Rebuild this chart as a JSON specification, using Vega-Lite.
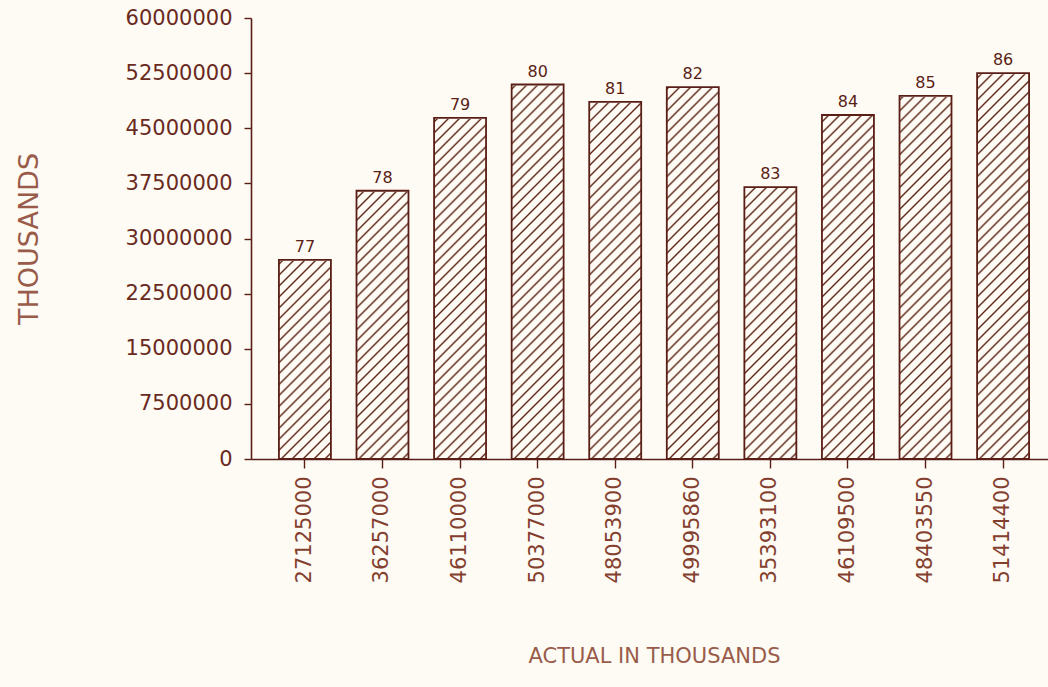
{
  "$schema": "https://vega.github.io/schema/vega-lite/v6.json",
  "description": "Bar chart of actual amounts in thousands, 1977-1986",
  "width": 797,
  "height": 441,
  "autosize": {"type": "none"},
  "padding": {"left": 251, "top": 18, "right": 0, "bottom": 228},
  "background": "#fdfbf4",
  "config": {
    "view": {"stroke": null},
    "font": "DejaVu Sans",
    "axis": {
      "domainColor": "#5a1e16",
      "tickColor": "#5a1e16",
      "domainWidth": 1.6,
      "tickWidth": 1.4,
      "grid": false,
      "labelFont": "DejaVu Sans",
      "titleFont": "DejaVu Sans",
      "titleFontWeight": "normal"
    }
  },
  "data": {
    "values": [
      {"actual": "27125000", "year": "77", "value": 27100000},
      {"actual": "36257000", "year": "78", "value": 36500000},
      {"actual": "46110000", "year": "79", "value": 46400000},
      {"actual": "50377000", "year": "80", "value": 50950000},
      {"actual": "48053900", "year": "81", "value": 48600000},
      {"actual": "49995860", "year": "82", "value": 50600000},
      {"actual": "35393100", "year": "83", "value": 37000000},
      {"actual": "46109500", "year": "84", "value": 46800000},
      {"actual": "48403550", "year": "85", "value": 49400000},
      {"actual": "51414400", "year": "86", "value": 52500000}
    ]
  },
  "encoding": {
    "x": {
      "field": "actual",
      "type": "nominal",
      "sort": null,
      "scale": {"range": [0, 806], "paddingInner": 0.33, "paddingOuter": 0.36},
      "axis": {
        "title": "ACTUAL IN THOUSANDS",
        "titleFontSize": 21,
        "titleColor": "#9a5c4a",
        "titlePadding": 63,
        "labelAngle": 270,
        "labelFontSize": 21,
        "labelColor": "#84402f",
        "labelPadding": 8,
        "tickSize": 9
      }
    }
  },
  "layer": [
    {
      "mark": {
        "type": "bar",
        "strokeWidth": 0,
        "fill": {
          "gradient": "linear",
          "x1": 0, "y1": 0, "x2": 0.13, "y2": 1.1026,
          "stops": [
            {"offset": 0, "color": "#fdfbf4"},
            {"offset": 0.007, "color": "#fdfbf4"}, {"offset": 0.011, "color": "#5e2418"}, {"offset": 0.015, "color": "#fdfbf4"},
            {"offset": 0.0292, "color": "#fdfbf4"}, {"offset": 0.0332, "color": "#5e2418"}, {"offset": 0.0372, "color": "#fdfbf4"},
            {"offset": 0.0514, "color": "#fdfbf4"}, {"offset": 0.0554, "color": "#5e2418"}, {"offset": 0.0594, "color": "#fdfbf4"},
            {"offset": 0.0736, "color": "#fdfbf4"}, {"offset": 0.0776, "color": "#5e2418"}, {"offset": 0.0816, "color": "#fdfbf4"},
            {"offset": 0.0958, "color": "#fdfbf4"}, {"offset": 0.0998, "color": "#5e2418"}, {"offset": 0.1038, "color": "#fdfbf4"},
            {"offset": 0.118, "color": "#fdfbf4"}, {"offset": 0.122, "color": "#5e2418"}, {"offset": 0.126, "color": "#fdfbf4"},
            {"offset": 0.1402, "color": "#fdfbf4"}, {"offset": 0.1442, "color": "#5e2418"}, {"offset": 0.1482, "color": "#fdfbf4"},
            {"offset": 0.1624, "color": "#fdfbf4"}, {"offset": 0.1664, "color": "#5e2418"}, {"offset": 0.1704, "color": "#fdfbf4"},
            {"offset": 0.1846, "color": "#fdfbf4"}, {"offset": 0.1886, "color": "#5e2418"}, {"offset": 0.1926, "color": "#fdfbf4"},
            {"offset": 0.2068, "color": "#fdfbf4"}, {"offset": 0.2108, "color": "#5e2418"}, {"offset": 0.2148, "color": "#fdfbf4"},
            {"offset": 0.229, "color": "#fdfbf4"}, {"offset": 0.233, "color": "#5e2418"}, {"offset": 0.237, "color": "#fdfbf4"},
            {"offset": 0.2512, "color": "#fdfbf4"}, {"offset": 0.2552, "color": "#5e2418"}, {"offset": 0.2592, "color": "#fdfbf4"},
            {"offset": 0.2734, "color": "#fdfbf4"}, {"offset": 0.2774, "color": "#5e2418"}, {"offset": 0.2814, "color": "#fdfbf4"},
            {"offset": 0.2956, "color": "#fdfbf4"}, {"offset": 0.2996, "color": "#5e2418"}, {"offset": 0.3036, "color": "#fdfbf4"},
            {"offset": 0.3178, "color": "#fdfbf4"}, {"offset": 0.3218, "color": "#5e2418"}, {"offset": 0.3258, "color": "#fdfbf4"},
            {"offset": 0.34, "color": "#fdfbf4"}, {"offset": 0.344, "color": "#5e2418"}, {"offset": 0.348, "color": "#fdfbf4"},
            {"offset": 0.3622, "color": "#fdfbf4"}, {"offset": 0.3662, "color": "#5e2418"}, {"offset": 0.3702, "color": "#fdfbf4"},
            {"offset": 0.3844, "color": "#fdfbf4"}, {"offset": 0.3884, "color": "#5e2418"}, {"offset": 0.3924, "color": "#fdfbf4"},
            {"offset": 0.4066, "color": "#fdfbf4"}, {"offset": 0.4106, "color": "#5e2418"}, {"offset": 0.4146, "color": "#fdfbf4"},
            {"offset": 0.4288, "color": "#fdfbf4"}, {"offset": 0.4328, "color": "#5e2418"}, {"offset": 0.4368, "color": "#fdfbf4"},
            {"offset": 0.451, "color": "#fdfbf4"}, {"offset": 0.455, "color": "#5e2418"}, {"offset": 0.459, "color": "#fdfbf4"},
            {"offset": 0.4732, "color": "#fdfbf4"}, {"offset": 0.4772, "color": "#5e2418"}, {"offset": 0.4812, "color": "#fdfbf4"},
            {"offset": 0.4954, "color": "#fdfbf4"}, {"offset": 0.4994, "color": "#5e2418"}, {"offset": 0.5034, "color": "#fdfbf4"},
            {"offset": 0.5176, "color": "#fdfbf4"}, {"offset": 0.5216, "color": "#5e2418"}, {"offset": 0.5256, "color": "#fdfbf4"},
            {"offset": 0.5398, "color": "#fdfbf4"}, {"offset": 0.5438, "color": "#5e2418"}, {"offset": 0.5478, "color": "#fdfbf4"},
            {"offset": 0.562, "color": "#fdfbf4"}, {"offset": 0.566, "color": "#5e2418"}, {"offset": 0.57, "color": "#fdfbf4"},
            {"offset": 0.5842, "color": "#fdfbf4"}, {"offset": 0.5882, "color": "#5e2418"}, {"offset": 0.5922, "color": "#fdfbf4"},
            {"offset": 0.6064, "color": "#fdfbf4"}, {"offset": 0.6104, "color": "#5e2418"}, {"offset": 0.6144, "color": "#fdfbf4"},
            {"offset": 0.6286, "color": "#fdfbf4"}, {"offset": 0.6326, "color": "#5e2418"}, {"offset": 0.6366, "color": "#fdfbf4"},
            {"offset": 0.6508, "color": "#fdfbf4"}, {"offset": 0.6548, "color": "#5e2418"}, {"offset": 0.6588, "color": "#fdfbf4"},
            {"offset": 0.673, "color": "#fdfbf4"}, {"offset": 0.677, "color": "#5e2418"}, {"offset": 0.681, "color": "#fdfbf4"},
            {"offset": 0.6952, "color": "#fdfbf4"}, {"offset": 0.6992, "color": "#5e2418"}, {"offset": 0.7032, "color": "#fdfbf4"},
            {"offset": 0.7174, "color": "#fdfbf4"}, {"offset": 0.7214, "color": "#5e2418"}, {"offset": 0.7254, "color": "#fdfbf4"},
            {"offset": 0.7396, "color": "#fdfbf4"}, {"offset": 0.7436, "color": "#5e2418"}, {"offset": 0.7476, "color": "#fdfbf4"},
            {"offset": 0.7618, "color": "#fdfbf4"}, {"offset": 0.7658, "color": "#5e2418"}, {"offset": 0.7698, "color": "#fdfbf4"},
            {"offset": 0.784, "color": "#fdfbf4"}, {"offset": 0.788, "color": "#5e2418"}, {"offset": 0.792, "color": "#fdfbf4"},
            {"offset": 0.8062, "color": "#fdfbf4"}, {"offset": 0.8102, "color": "#5e2418"}, {"offset": 0.8142, "color": "#fdfbf4"},
            {"offset": 0.8284, "color": "#fdfbf4"}, {"offset": 0.8324, "color": "#5e2418"}, {"offset": 0.8364, "color": "#fdfbf4"},
            {"offset": 0.8506, "color": "#fdfbf4"}, {"offset": 0.8546, "color": "#5e2418"}, {"offset": 0.8586, "color": "#fdfbf4"},
            {"offset": 0.8728, "color": "#fdfbf4"}, {"offset": 0.8768, "color": "#5e2418"}, {"offset": 0.8808, "color": "#fdfbf4"},
            {"offset": 0.895, "color": "#fdfbf4"}, {"offset": 0.899, "color": "#5e2418"}, {"offset": 0.903, "color": "#fdfbf4"},
            {"offset": 0.9172, "color": "#fdfbf4"}, {"offset": 0.9212, "color": "#5e2418"}, {"offset": 0.9252, "color": "#fdfbf4"},
            {"offset": 0.9394, "color": "#fdfbf4"}, {"offset": 0.9434, "color": "#5e2418"}, {"offset": 0.9474, "color": "#fdfbf4"},
            {"offset": 0.9616, "color": "#fdfbf4"}, {"offset": 0.9656, "color": "#5e2418"}, {"offset": 0.9696, "color": "#fdfbf4"},
            {"offset": 0.9838, "color": "#fdfbf4"}, {"offset": 0.9878, "color": "#5e2418"}, {"offset": 0.9918, "color": "#fdfbf4"},
            {"offset": 1, "color": "#fdfbf4"}
          ]
        }
      },
      "encoding": {
        "y": {
          "datum": 60000000,
          "type": "quantitative",
          "scale": {"domain": [0, 60000000], "nice": false},
          "axis": {
            "title": "THOUSANDS",
            "titleFontSize": 27,
            "titleColor": "#9a5c4a",
            "titlePadding": 82,
            "values": [0, 7500000, 15000000, 22500000, 30000000, 37500000, 45000000, 52500000, 60000000],
            "format": "d",
            "labelFontSize": 21,
            "labelColor": "#6a2a1e",
            "labelPadding": 12,
            "tickSize": 7
          }
        },
        "y2": {"datum": 0}
      }
    },
    {
      "mark": {"type": "bar", "fill": "#fdfbf4", "stroke": "#fdfbf4", "strokeWidth": 2},
      "encoding": {
        "y": {"field": "value", "type": "quantitative"},
        "y2": {"datum": 60000000}
      }
    },
    {
      "mark": {"type": "bar", "fill": null, "fillOpacity": 0, "stroke": "#5a1e16", "strokeWidth": 1.8},
      "encoding": {
        "y": {"field": "value", "type": "quantitative"},
        "y2": {"datum": 0}
      }
    },
    {
      "mark": {"type": "text", "baseline": "alphabetic", "dy": -8, "fontSize": 16, "color": "#5a1e16", "font": "DejaVu Sans"},
      "encoding": {
        "y": {"field": "value", "type": "quantitative"},
        "text": {"field": "year"}
      }
    }
  ]
}
